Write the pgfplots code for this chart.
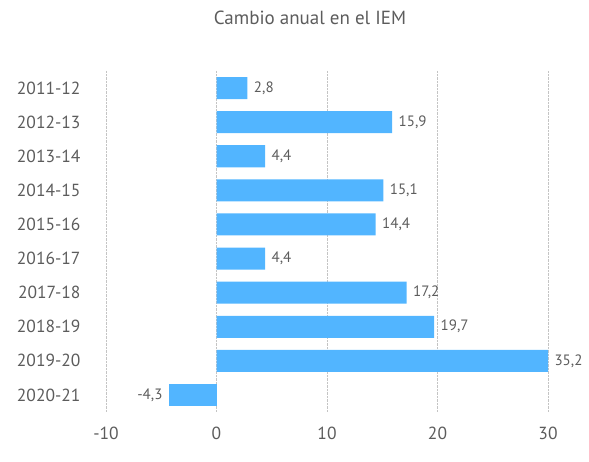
\documentclass[border=0pt]{standalone}
\usepackage{pgfplots}
\pgfplotsset{compat=1.18}
\usepackage{pgfplotstable}
\usepackage{fontspec}
\setmainfont{PT Sans}
\definecolor{barc}{HTML}{52B5FF}
\definecolor{txt}{HTML}{5C5C5C}
\definecolor{gridc}{HTML}{C4C4C4}
\pgfplotstableread{
x y lab
2.8 0 2,8
15.9 1 15,9
4.4 2 4,4
15.1 3 15,1
14.4 4 14,4
4.4 5 4,4
17.2 6 17,2
19.7 7 19,7
35.2 8 35,2
}\pos
\pgfplotstableread{
x y lab
-4.3 9 -4,3
}\negd
\begin{document}
\begin{tikzpicture}
\path (0,0) rectangle (589pt,-462pt);
\begin{axis}[at={(106pt,-412pt)}, anchor=south west,
  scale only axis, width=442pt, height=341pt,
  xmin=-10, xmax=30, ymin=-0.5, ymax=9.5, y dir=reverse,
  xbar, bar width=22pt, bar shift=0pt,
  axis line style={draw=none}, major tick length=0pt,
  xtick={-10,0,10,20,30}, xticklabels={-10,0,10,20,30},
  ytick={0,...,9},
  yticklabels={2011-12,2012-13,2013-14,2014-15,2015-16,2016-17,2017-18,2018-19,2019-20,2020-21},
  xmajorgrids, grid style={densely dotted, gridc, line width=0.7pt},
  tick label style={text=txt, font=\fontsize{17.5}{20}\selectfont},
  yticklabel style={xshift=-22pt},
  xticklabel style={yshift=-12pt},
  restrict x to domain*=-10:30,
  nodes near coords, point meta=explicit symbolic,
  every node near coord/.append style={text=txt, font=\fontsize{15}{18}\selectfont},
  clip=false,
]
\addplot[fill=barc, draw=none, every node near coord/.append style={anchor=west, xshift=3pt}] table[x=x, y=y, meta=lab] {\pos};
\addplot[fill=barc, draw=none, every node near coord/.append style={anchor=east, xshift=-3pt}] table[x=x, y=y, meta=lab] {\negd};
\node[text=txt, font=\fontsize{19}{22}\selectfont] at ([yshift=53pt]axis description cs:0.4615,1) {Cambio anual en el IEM};
\end{axis}
\end{tikzpicture}
\end{document}
